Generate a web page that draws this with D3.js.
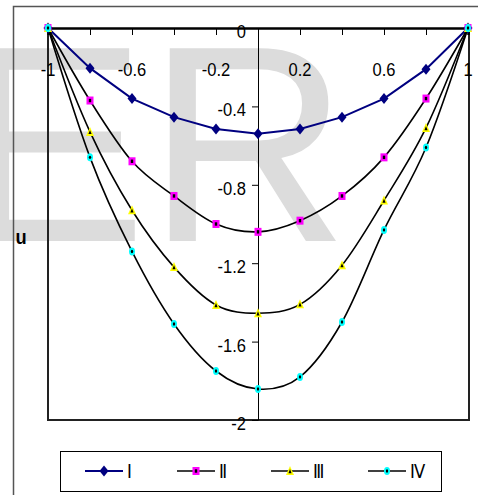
<!DOCTYPE html>
<html><head><meta charset="utf-8">
<script src="https://cdn.jsdelivr.net/npm/d3@7"></script>
<style>html,body{margin:0;padding:0;background:#fff;overflow:hidden}</style>
</head><body><svg id="chart" width="478" height="495"></svg>
<script>
// Profiles u(x) for four cases, sampled at x = -1 .. 1 in steps of 0.2
const xValues = [-1, -0.8, -0.6, -0.4, -0.2, 0, 0.2, 0.4, 0.6, 0.8, 1];
const seriesNames = ["Ⅰ", "Ⅱ", "Ⅲ", "Ⅳ"];
const uI   = [0, -0.205, -0.36, -0.455, -0.515, -0.54, -0.515, -0.455, -0.36, -0.21, 0];
const uII  = [0, -0.37, -0.68, -0.857, -1.0, -1.04, -0.983, -0.857, -0.66, -0.36, 0];
const uIII = [0, -0.53, -0.93, -1.22, -1.413, -1.455, -1.41, -1.21, -0.88, -0.51, 0];
const uIV  = [0, -0.66, -1.14, -1.51, -1.75, -1.842, -1.78, -1.50, -1.03, -0.61, 0];
const xTicks = [-1, -0.8, -0.6, -0.4, -0.2, 0, 0.2, 0.4, 0.6, 0.8, 1];
const xTickLabels = ["-1", "-0.6", "-0.2", "0.2", "0.6", "1"];
const yTicks = [0, -0.4, -0.8, -1.2, -1.6, -2];
const yTickLabels = ["0", "-0.4", "-0.8", "-1.2", "-1.6", "-2"];

const svg = d3.select("#chart");
const FONT = "'Liberation Sans', Arial, 'DejaVu Sans', sans-serif";
const SX = 0.87;

const x = d3.scaleLinear().domain([-1, 1]).range([48, 468]);
const y = d3.scaleLinear().domain([0, -2]).range([28, 420]);

// background lettering
svg.append("text")
  .attr("x", -40).attr("y", 241)
  .attr("font-family", FONT).attr("font-size", 280)
  .attr("fill", "#dcdcdc")
  .text("ER");

// outer frame (left and top edges)
svg.append("path")
  .attr("d", "M13.5,495 V6.5 H478")
  .attr("fill", "none").attr("stroke", "#555").attr("stroke-width", 1.5);

// plot area frame
svg.append("path")
  .attr("d", `M${x(-1)},${y(0)} V${y(-2)} H${x(1) + 1} V${y(0)}`)
  .attr("fill", "none").attr("stroke", "#222").attr("stroke-width", 2);

function label(g, px, py, txt, anchor, size, weight) {
  g.append("text")
    .attr("transform", `translate(${px},${py}) scale(${SX},1)`)
    .attr("text-anchor", anchor)
    .attr("font-family", FONT)
    .attr("font-size", size)
    .attr("font-weight", weight || "normal")
    .attr("fill", "#000")
    .text(txt);
}

// horizontal axis along u = 0
const xAxis = d3.axisBottom(x).tickValues(xTicks).tickSize(7).tickFormat("");
const gx = svg.append("g").attr("transform", `translate(0,${y(0)})`).call(xAxis);
gx.select(".domain").attr("stroke", "#000").attr("stroke-width", 2.5);
gx.selectAll(".tick line").attr("stroke", "#000");

// vertical axis along x = 0
const yAxis = d3.axisLeft(y).tickValues(yTicks).tickSize(6).tickSizeOuter(0).tickFormat("");
const gy = svg.append("g").attr("transform", `translate(${x(0)},0)`).call(yAxis);
gy.select(".domain").attr("stroke", "#000").attr("stroke-width", 1);
gy.selectAll(".tick line").attr("stroke", "#000");

const labels = svg.append("g");
xTickLabels.forEach(t => label(labels, x(+t), 76, t, "middle", 19));
yTickLabels.forEach(t => label(labels, x(0) - 12, y(+t) + 10, t, "end", 19));
label(labels, 21, 244, "u", "middle", 21, "bold");

// markers, centred on the origin
const markers = [
  g => g.append("path").attr("d", "M0,-5.5 L4.5,0 L0,5.5 L-4.5,0Z").attr("fill", "#000080"),
  g => { g.append("rect").attr("x", -3.5).attr("y", -4).attr("width", 7).attr("height", 8).attr("fill", "#ff00ff");
         g.append("rect").attr("x", -1.2).attr("y", -1.7).attr("width", 2.4).attr("height", 3.4).attr("fill", "#000"); },
  g => { g.append("path").attr("d", "M0,-5 L4,4 L-4,4Z").attr("fill", "#ffff00");
         g.append("path").attr("d", "M0,-2 L1.6,2.2 L-1.6,2.2Z").attr("fill", "#000"); },
  g => { g.append("ellipse").attr("rx", 3).attr("ry", 4).attr("fill", "#00ffff");
         g.append("ellipse").attr("rx", 1.2).attr("ry", 1.7).attr("fill", "#000"); }
];

const series = [
  { name: seriesNames[0], values: uI,   color: "#000080", width: 2,   curve: d3.curveLinear },
  { name: seriesNames[1], values: uII,  color: "#000",    width: 1.6, curve: d3.curveCardinal.tension(0) },
  { name: seriesNames[2], values: uIII, color: "#000",    width: 1.6, curve: d3.curveCardinal.tension(0) },
  { name: seriesNames[3], values: uIV,  color: "#000",    width: 1.6, curve: d3.curveCardinal.tension(0) }
];

series.forEach(s => {
  const line = d3.line().x((d, i) => x(xValues[i])).y(d => y(d)).curve(s.curve);
  svg.append("path").datum(s.values)
    .attr("d", line).attr("fill", "none")
    .attr("stroke", s.color).attr("stroke-width", s.width);
});
series.forEach((s, si) => {
  s.values.forEach((v, i) => {
    const g = svg.append("g").attr("transform", `translate(${x(xValues[i])},${y(v)})`);
    markers[si](g);
  });
});

// legend
const lg = svg.append("g");
lg.append("rect").attr("x", 60.5).attr("y", 451.5).attr("width", 381).attr("height", 40)
  .attr("fill", "#fff").attr("stroke", "#000").attr("stroke-width", 1);
const legendX = [85, 177, 271, 368];
series.forEach((s, si) => {
  const lx = legendX[si];
  lg.append("line").attr("x1", lx).attr("x2", lx + 38).attr("y1", 471).attr("y2", 471)
    .attr("stroke", s.color).attr("stroke-width", s.width);
  markers[si](lg.append("g").attr("transform", `translate(${lx + 19},471)`));
  label(lg, lx + 42, 478, s.name, "start", 19);
});
</script>
</body></html>
